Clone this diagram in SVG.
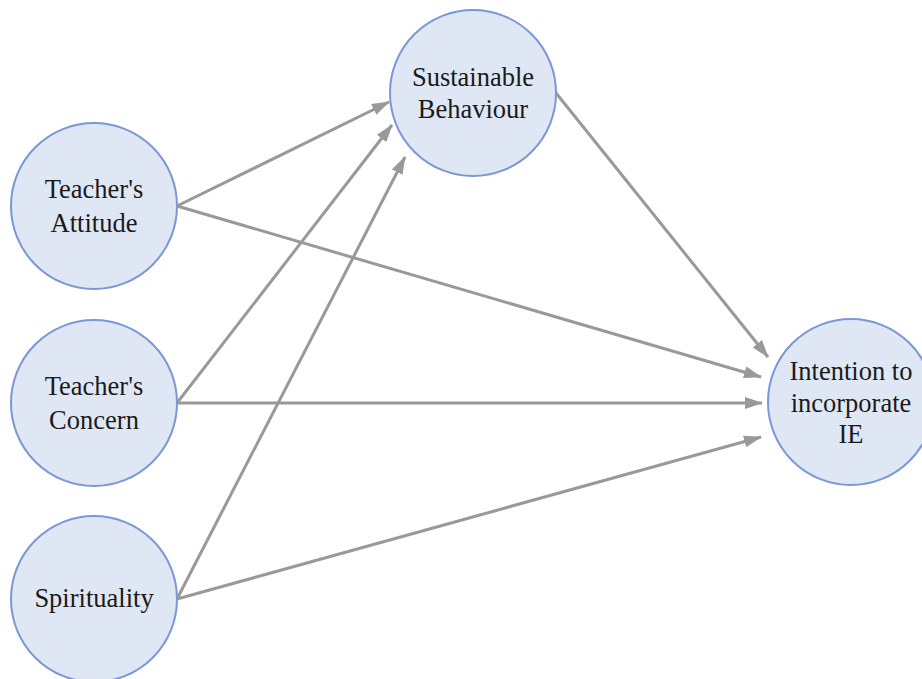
<svg xmlns="http://www.w3.org/2000/svg" width="922" height="679" viewBox="0 0 922 679">
<style>
.node circle{fill:#dfe7f4;stroke:#7b97d6;stroke-width:2}
.node text{font-family:"Liberation Serif","Times New Roman",serif;font-size:26.5px;fill:#1a1a1a;text-anchor:middle}
.edge{stroke:#999999;stroke-width:3;fill:none;marker-end:url(#ah)}
</style>
<defs>
<marker id="ah" markerUnits="userSpaceOnUse" markerWidth="19" markerHeight="13" refX="17" refY="6.5" orient="auto">
<path d="M0,0.5 L18,6.5 L0,12.5 Z" fill="#999999"/>
</marker>
</defs>
<rect width="922" height="679" fill="#ffffff"/>
<g id="connectors">
<line class="edge" x1="177" y1="206" x2="389" y2="102"/>
<line class="edge" x1="177" y1="403" x2="392" y2="125"/>
<line class="edge" x1="177" y1="599" x2="405" y2="157"/>
<line class="edge" x1="177" y1="206" x2="761" y2="377"/>
<line class="edge" x1="177" y1="403" x2="762" y2="403"/>
<line class="edge" x1="177" y1="599" x2="761" y2="437"/>
<line class="edge" x1="556" y1="93" x2="768" y2="357"/>
</g>
<g id="attitude" class="node">
<circle cx="94" cy="206" r="83"/>
<text x="94" y="198">Teacher's</text>
<text x="94" y="232">Attitude</text>
</g>
<g id="concern" class="node">
<circle cx="94" cy="403" r="83"/>
<text x="94" y="395">Teacher's</text>
<text x="94" y="429">Concern</text>
</g>
<g id="spirituality" class="node">
<circle cx="94" cy="599" r="83"/>
<text x="94" y="607">Spirituality</text>
</g>
<g id="sustainable" class="node">
<circle cx="473" cy="93" r="83"/>
<text x="473" y="86">Sustainable</text>
<text x="473" y="118">Behaviour</text>
</g>
<g id="intention" class="node">
<circle cx="851" cy="402" r="83"/>
<text x="851" y="380">Intention to</text>
<text x="851" y="412">incorporate</text>
<text x="851" y="443">IE</text>
</g>
</svg>
